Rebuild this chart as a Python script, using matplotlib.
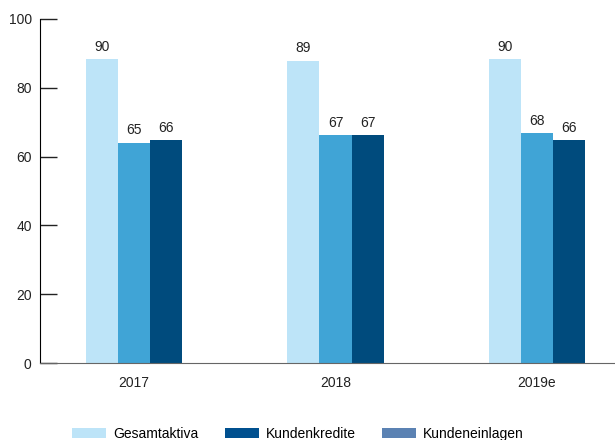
import numpy as np
import matplotlib
matplotlib.use('Agg')
import matplotlib.pyplot as plt
from matplotlib.patches import Patch

plt.rcParams['font.family'] = ['Liberation Sans', 'DejaVu Sans']

# Daten
jahre = ['2017', '2018', '2019e']
serien = ['Gesamtaktiva', 'Kundenkredite', 'Kundeneinlagen']
gesamtaktiva = [88.3, 87.8, 88.3]
kundenkredite = [64.0, 66.2, 66.8]
kundeneinlagen = [64.7, 66.2, 64.7]
beschriftung_ga = ['90', '89', '90']
beschriftung_kk = ['65', '67', '68']
beschriftung_ke = ['66', '67', '66']

bar_farben = ['#bde4f8', '#40a4d6', '#004b7d']
legende_farben = ['#bde4f8', '#00508f', '#5b82b3']

W, H = 615, 440
fig = plt.figure(figsize=(W / 100, H / 100), dpi=100)
ax = fig.add_axes([40 / W, (H - 363) / H, (W - 40) / W, (363 - 19) / H])

x = np.arange(len(jahre))
breite = 0.16
werte = [gesamtaktiva, kundenkredite, kundeneinlagen]
labels = [beschriftung_ga, beschriftung_kk, beschriftung_ke]

for i, (vals, labs) in enumerate(zip(werte, labels)):
    pos = x + (i - 1) * breite
    ax.bar(pos, vals, width=breite, color=bar_farben[i], linewidth=0, zorder=2)
    for xp, v, t in zip(pos, vals, labs):
        ax.annotate(t, (xp, v), xytext=(0, 4), textcoords='offset points',
                    ha='center', va='bottom', fontsize=10, color='#222222')

ax.set_ylim(0, 100)
ax.set_xlim(-0.467, 2.387)
ax.set_yticks([0, 20, 40, 60, 80, 100])
ax.set_xticks(x)
ax.set_xticklabels(jahre)

for s in ['top', 'right']:
    ax.spines[s].set_visible(False)
ax.spines['left'].set_color('black')
ax.spines['bottom'].set_color('#666666')
ax.spines['bottom'].set_zorder(3)

ax.tick_params(axis='y', direction='in', length=12, width=1, color='#222222',
               labelsize=10, labelcolor='#222222', pad=6)
ax.tick_params(axis='x', length=0, labelsize=10, labelcolor='#222222', pad=9)

handles = [Patch(facecolor=c, edgecolor='none') for c in legende_farben]
fig.legend(handles, serien, loc='center left', bbox_to_anchor=(72 / W, 1 - 434 / H),
           ncol=3, frameon=False, fontsize=10, handlelength=2.45, handleheight=0.72,
           handletextpad=0.5, columnspacing=1.9, borderpad=0, borderaxespad=0)

plt.savefig('out.png', dpi=100)
